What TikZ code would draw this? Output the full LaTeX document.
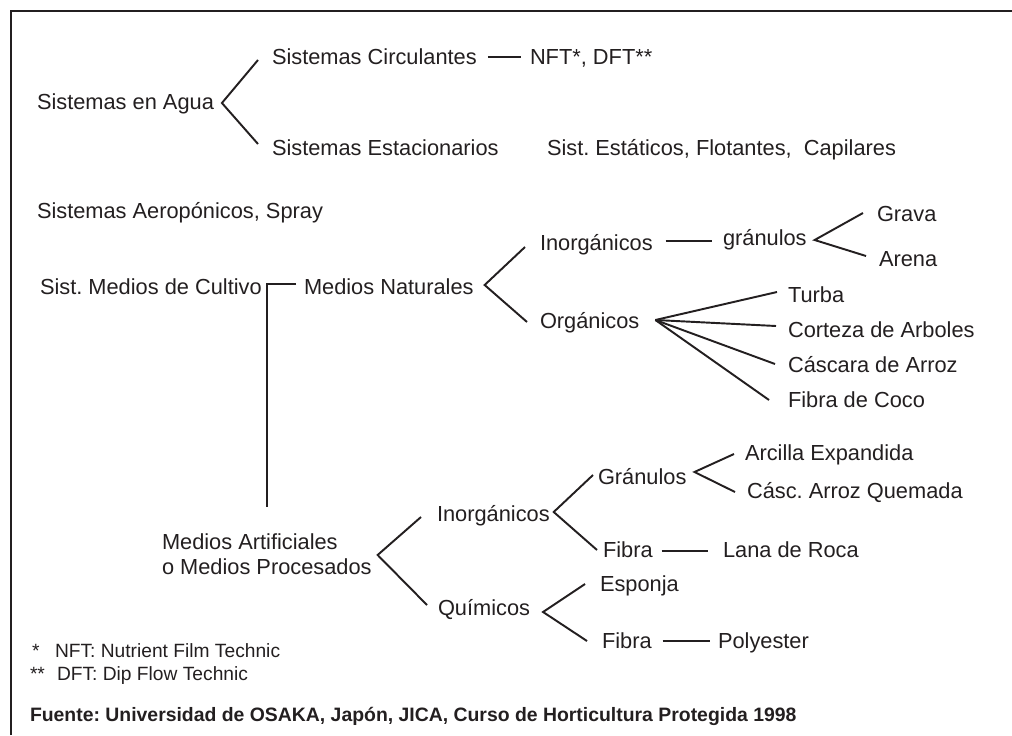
\documentclass[tikz,border=0pt]{standalone}
\usepackage{fontspec}
\setmainfont{Liberation Sans}
\usetikzlibrary{calc}
\definecolor{ink}{HTML}{231F20}
\frenchspacing
\begin{document}
\begin{tikzpicture}[x=0.75pt,y=-0.75pt,
  every node/.style={inner sep=0pt,outer sep=0pt,text=ink},
  lbl/.style={anchor=west,text height=11.7pt,text depth=0pt,font=\fontsize{16.35}{19.6}\selectfont},
  note/.style={anchor=west,text height=10.4pt,text depth=0pt,font=\fontsize{14.4}{17}\selectfont},
  src/.style={anchor=west,text height=10.5pt,text depth=0pt,font=\bfseries\fontsize{14.55}{17}\selectfont},
  link/.style={line width=1.45pt,draw=ink},
  frame/.style={line width=1.8pt,draw=ink}]
\useasboundingbox (0,0) rectangle (1012,735);
\draw[frame] (11,735) -- (11,11) -- (1012,11);

% water systems
\node[lbl] (agua)  at (37,102)  {Sistemas en Agua};
\node[lbl] (circ)  at (272,57)  {Sistemas Circulantes};
\node[lbl] (nft)   at (530,57)  {NFT*, DFT**};
\node[lbl] (estac) at (272,148) {Sistemas Estacionarios};
\node[lbl] (estat) at (547,148) {Sist. Estáticos, Flotantes,\ \ Capilares};
\node[lbl] (aero)  at (37,211)  {Sistemas Aeropónicos, Spray};

% culture media
\node[lbl] (medios) at (40,287)  {Sist. Medios de Cultivo};
\node[lbl] (nat)    at (304,287) {Medios Naturales};
\node[lbl] (inorgN) at (540,243) {Inorgánicos};
\node[lbl] (granN)  at (723,238) {gránulos};
\node[lbl] (grava)  at (877,214) {Grava};
\node[lbl] (arena)  at (879,259) {Arena};
\node[lbl] (org)    at (540,321) {Orgánicos};
\node[lbl] (turba)  at (788,295) {Turba};
\node[lbl] (corteza) at (788,330) {Corteza de Arboles};
\node[lbl] (cascara) at (788,365) {Cáscara de Arroz};
\node[lbl] (coco)   at (788,400) {Fibra de Coco};

\node[lbl] (art1) at (162,542) {Medios Artificiales};
\node[lbl] (art2) at (162,567) {o Medios Procesados};
\node[lbl] (inorgA) at (437,514) {Inorgánicos};
\node[lbl] (granA)  at (598,477) {Gránulos};
\node[lbl] (arcilla) at (745,453) {Arcilla Expandida};
\node[lbl] (quemada) at (747,491) {Cásc. Arroz Quemada};
\node[lbl] (fibA)   at (603,550) {Fibra};
\node[lbl] (lana)   at (723,550) {Lana de Roca};
\node[lbl] (quim)   at (438,608) {Químicos};
\node[lbl] (esponja) at (600,584) {Esponja};
\node[lbl] (fibQ)   at (602,641) {Fibra};
\node[lbl] (poly)   at (718,641) {Polyester};

% notes
\node[note] (st1) at (32,651) {*};
\node[note] (n1)  at (55,651) {NFT: Nutrient Film Technic};
\node[note] (st2) at (30,674) {**};
\node[note] (n2)  at (57,674) {DFT: Dip Flow Technic};
\node[src] (src) at (30,714) {Fuente: Universidad de OSAKA, Japón, JICA, Curso de Horticultura Protegida 1998};

% connectors
\draw[link] ($(circ.west)+(-14,3)$) -- ($(agua.east)+(8,1)$) -- ($(estac.west)+(-14,-4)$);
\draw[link] ($(circ.east)+(11,0)$) -- ($(nft.west)+(-9,0)$);

\coordinate (corner) at ($(medios.east)+(5,-3)$);
\coordinate (vend) at ($(art1.west)+(0,-35)$);
\draw[link] ($(nat.west)+(-8,-3)$) -- (corner) -- (corner |- vend);
\draw[link] ($(inorgN.west)+(-15,4)$) -- ($(nat.east)+(11,-2)$) -- ($(org.west)+(-13,1)$);
\draw[link] ($(inorgN.east)+(13,-2)$) -- ($(granN.west)+(-11,3)$);
\draw[link] ($(grava.west)+(-14,-1)$) -- ($(granN.east)+(8,2)$) -- ($(arena.west)+(-13,-3)$);
\draw[link] ($(org.east)+(16,-1)$) -- ($(turba.west)+(-11,-3)$);
\draw[link] ($(org.east)+(16,-1)$) -- ($(corteza.west)+(-12,-4)$);
\draw[link] ($(org.east)+(16,-1)$) -- ($(cascara.west)+(-13,-1)$);
\draw[link] ($(org.east)+(16,-1)$) -- ($(coco.west)+(-19,0)$);

\draw[link] ($(inorgA.west)+(-16,3)$) -- ($(art2.east)+(6,-12)$) -- ($(quim.west)+(-11,-3)$);
\draw[link] ($(granA.west)+(-5,-2)$) -- ($(inorgA.east)+(4,-2)$) -- ($(fibA.west)+(-6,0)$);
\draw[link] ($(arcilla.west)+(-11,1)$) -- ($(granA.east)+(8,-5)$) -- ($(quemada.west)+(-12,1)$);
\draw[link] ($(fibA.east)+(9,1)$) -- ($(lana.west)+(-15,1)$);
\draw[link] ($(esponja.west)+(-15,0)$) -- ($(quim.east)+(13,4)$) -- ($(fibQ.west)+(-15,0)$);
\draw[link] ($(fibQ.east)+(11,0)$) -- ($(poly.west)+(-8,0)$);
\end{tikzpicture}
\end{document}
